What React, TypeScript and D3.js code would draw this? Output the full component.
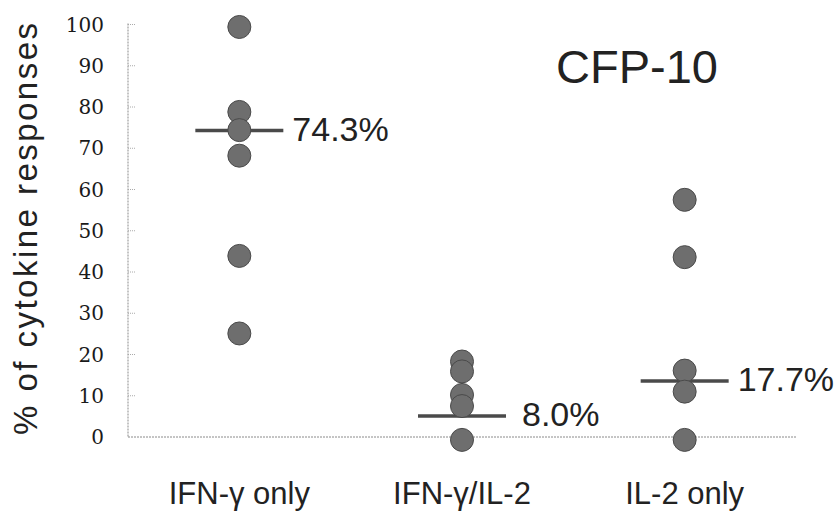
import React from "react";
import * as d3 from "d3";

const categories = ["IFN-γ only", "IFN-γ/IL-2", "IL-2 only"];
const ifnOnly = [99.4, 78.8, 74.4, 68.2, 43.9, 25.1];
const ifnIl2 = [18.3, 15.9, 10.2, 7.5, -0.7];
const il2Only = [57.5, 43.6, 16.1, 11.0, -0.7];
const seriesValues = [ifnOnly, ifnIl2, il2Only];
const medianLines = [74.3, 5.1, 13.6];
const medianLabels = ["74.3%", "8.0%", "17.7%"];
const yTicks = [0, 10, 20, 30, 40, 50, 60, 70, 80, 90, 100];

const W = 835;
const H = 514;
const left = 128;
const right = 796;
const top = 24.5;
const bottom = 437;
const LABEL_GAPS = [9, 16, 9];

export default function App() {
  const x = d3.scaleBand<string>().domain(categories).range([left, right]);
  const y = d3.scaleLinear().domain([0, 100]).range([bottom, top]);
  const cx = (c: string) => (x(c) as number) + x.bandwidth() / 2;
  const halfLine = 44;
  const sans = "'Liberation Sans', Arial, sans-serif";

  return (
    <svg
      width={W}
      height={H}
      style={{ position: "absolute", left: 0, top: 0, background: "#fff" }}
    >
      {/* axes */}
      <line x1={left} x2={left} y1={y(100) - 1} y2={bottom} stroke="#8a8a8a" strokeWidth={1} strokeDasharray="2,1" />
      <line x1={left} x2={right} y1={bottom} y2={bottom} stroke="#8a8a8a" strokeWidth={1} strokeDasharray="2,1" />
      {yTicks.map((t) => (
        <g key={t}>
          {t > 0 && (
            <line x1={left} x2={left + 8} y1={y(t)} y2={y(t)} stroke="#aaa" strokeWidth={1} strokeDasharray="1,1" />
          )}
          <text
            x={104}
            y={y(t)}
            textAnchor="end"
            dominantBaseline="central"
            fontFamily="'DejaVu Serif', serif"
            fontSize={20}
            fill="#1a1a1a"
          >
            {t}
          </text>
        </g>
      ))}
      <text
        transform={`translate(37,229) rotate(-90)`}
        textAnchor="middle"
        fontFamily={sans}
        fontSize={33}
        fill="#222"
        textLength={412}
        lengthAdjust="spacing"
      >
        % of cytokine responses
      </text>

      {/* category labels */}
      {categories.map((c) => (
        <text key={c} x={cx(c)} y={504} textAnchor="middle" fontFamily={sans} fontSize={31} fill="#222">
          {c}
        </text>
      ))}

      {/* title */}
      <text x={556} y={83} fontFamily={sans} fontSize={47} fill="#222">
        CFP-10
      </text>

      {/* median lines */}
      {categories.map((c, i) => (
        <line
          key={"m" + c}
          x1={cx(c) - halfLine}
          x2={cx(c) + halfLine}
          y1={y(medianLines[i])}
          y2={y(medianLines[i])}
          stroke="#4a4a4a"
          strokeWidth={3.5}
        />
      ))}

      {/* dots */}
      {categories.map((c, i) =>
        seriesValues[i].map((v, j) => (
          <circle key={c + j} cx={cx(c)} cy={y(v)} r={11.5} fill="#6e6e6e" stroke="#4a4a4a" strokeWidth={1} />
        ))
      )}

      {/* median labels */}
      {categories.map((c, i) => (
        <text
          key={"l" + c}
          x={cx(c) + halfLine + LABEL_GAPS[i]}
          y={y(medianLines[i]) + 10}
          fontFamily={sans}
          fontSize={34}
          fill="#222"
        >
          {medianLabels[i]}
        </text>
      ))}
    </svg>
  );
}
